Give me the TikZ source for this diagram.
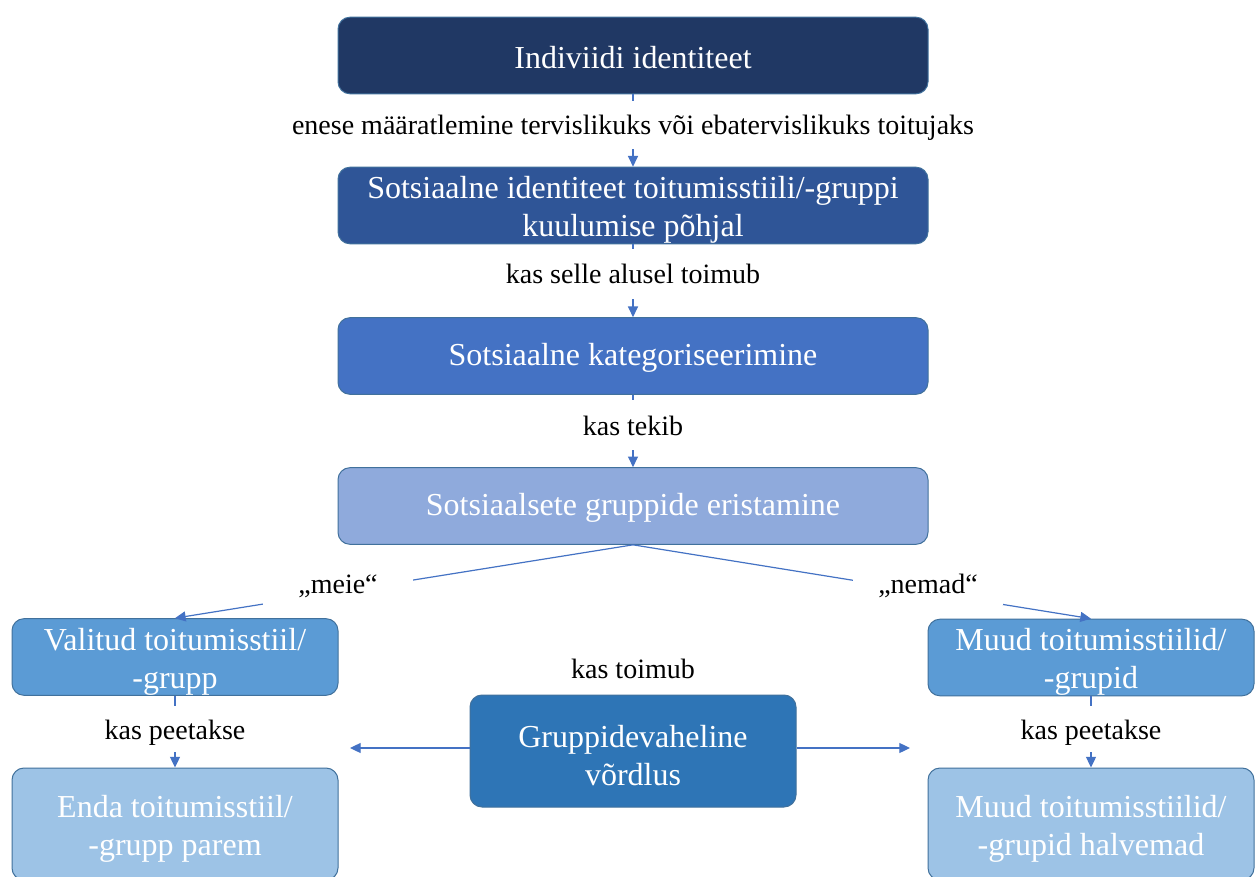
\documentclass[tikz,border=0pt]{standalone}
\usepackage{fontspec}
\setmainfont{Liberation Serif}
\usetikzlibrary{arrows.meta}
\definecolor{cA}{HTML}{203864}
\definecolor{cB}{HTML}{2F5597}
\definecolor{cC}{HTML}{4472C4}
\definecolor{cD}{HTML}{8FAADC}
\definecolor{cE}{HTML}{5B9BD5}
\definecolor{cF}{HTML}{2E75B6}
\definecolor{cG}{HTML}{9DC3E6}
\definecolor{cBorder}{HTML}{41719C}
\definecolor{cLine}{HTML}{4472C4}
\begin{document}
\begin{tikzpicture}[x=0.75pt,y=-0.75pt,
  box/.style={draw=cBorder, line width=0.75pt, rounded corners=9pt, inner sep=0pt},
  boxtxt/.style={text=white, align=center, inner sep=0pt, yshift=-3.5pt,
    font=\fontsize{24}{28.5}\selectfont},
  txt/.style={label={[boxtxt]center:{#1}}},
  txtone/.style={label={[boxtxt, yshift=2pt]center:{#1}}},
  widebox/.style={box, minimum width=442.5pt, minimum height=57.5pt},
  smallbox/.style={box, minimum width=244.5pt, minimum height=57.5pt},
  tallbox/.style={box, minimum width=244.5pt, minimum height=84pt},
  lab/.style={fill=white, inner sep=0pt, text=black, text height=16pt, text depth=1pt,
    font=\fontsize{21}{25}\selectfont},
  arr/.style={draw=cLine, line width=0.9pt, -{Triangle[length=8pt,width=7.5pt]}},
]
\useasboundingbox (0,0) rectangle (1257,877);
\clip (0,0) rectangle (1257,877);
\fill[white] (0,0) rectangle (1257,877);

% boxes
\node[widebox, fill=cA, txtone={Indiviidi identiteet}] (b1) at (633,55.5) {};
\node[widebox, fill=cB, txt={Sotsiaalne identiteet toitumisstiili/-gruppi\\kuulumise põhjal}] (b2) at (633,205.5) {};
\node[widebox, fill=cC, txtone={Sotsiaalne kategoriseerimine}] (b3) at (633,356) {};
\node[widebox, fill=cD, txtone={Sotsiaalsete gruppide eristamine}] (b4) at (633,506) {};
\node[smallbox, fill=cE, txt={Valitud toitumisstiil/\\-grupp}] (b5) at (175,657) {};
\node[smallbox, fill=cE, txt={Muud toitumisstiilid/\\-grupid}] (b6) at (1091,657.5) {};
\node[tallbox, fill=cF, txt={Gruppidevaheline\\võrdlus}] (b7) at (633,751) {};
\node[tallbox, fill=cG, txt={Enda toitumisstiil/\\-grupp parem}] (b8) at (175,824) {};
\node[tallbox, fill=cG, txt={Muud toitumisstiilid/\\-grupid halvemad}] (b9) at (1091,824) {};

% connectors
\draw[arr] (b1.south) -- (b2.north);
\draw[arr] (b2.south) -- (b3.north);
\draw[arr] (b3.south) -- (b4.north);
\draw[arr] (b4.south) -- (b5.north);
\draw[arr] (b4.south) -- (b6.north);
\draw[arr] (b5.south) -- (b8.north);
\draw[arr] (b6.south) -- (b9.north);
\coordinate (cl) at (350,748);
\coordinate (cr) at (910,748);
\draw[arr] (b7.west |- cl) -- (cl);
\draw[arr] (b7.east |- cr) -- (cr);

% labels
\node[lab, minimum height=36pt] (l1) at (633,125) {enese määratlemine tervislikuks või ebatervislikuks toitujaks};
\node[lab, minimum height=37.5pt] (l2) at (633,274) {kas selle alusel toimub};
\node[lab, minimum height=37.5pt] (l3) at (633,425) {kas tekib};
\node[lab, minimum width=112.5pt, minimum height=33pt] (l4) at (338,583) {„meie“};
\node[lab, minimum width=112.5pt, minimum height=33pt] (l5) at (928,583) {„nemad“};
\node[lab] (l6) at (633,668) {kas toimub};
\node[lab, minimum height=34.5pt] (l7) at (175,729) {kas peetakse};
\node[lab, minimum height=34.5pt] (l8) at (1091,729) {kas peetakse};
\end{tikzpicture}
\end{document}
